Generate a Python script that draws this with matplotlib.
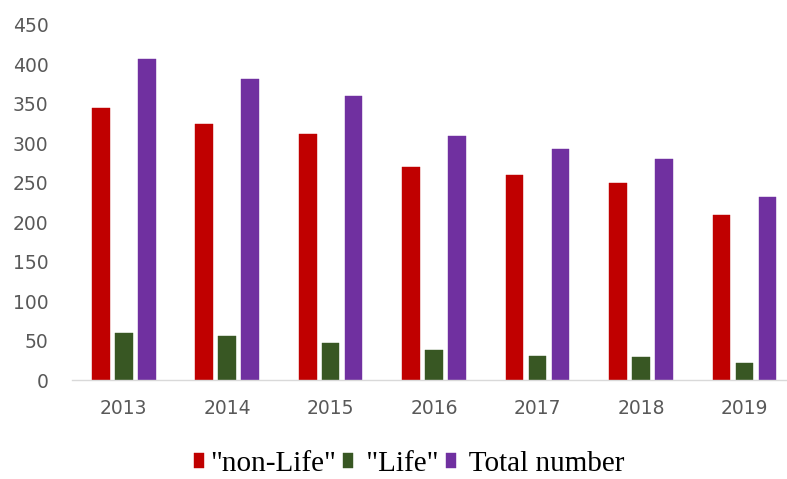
import matplotlib
matplotlib.use("Agg")
import matplotlib.pyplot as plt
import numpy as np

# values
years = ["2013", "2014", "2015", "2016", "2017", "2018", "2019"]
non_life = [345, 325, 312, 270, 260, 250, 209]
life = [60, 56, 47, 38, 30, 29, 21]
total = [407, 381, 360, 309, 293, 280, 232]

series_names = ['"non-Life"', ' "Life"', " Total number"]
series_colors = ["#C00000", "#385723", "#7030A0"]

W, H = 787, 479
fig = plt.figure(figsize=(W / 100, H / 100), dpi=100)
# plot area in pixels: left 72, bottom 380, top 25, right edge of figure
ax = fig.add_axes([72 / W, (H - 380) / H, (W - 72) / W, 355 / H])

x = np.arange(len(years))
step = 0.222
width = 0.17
for i, (vals, name, col) in enumerate(zip([non_life, life, total], series_names, series_colors)):
    ax.bar(x + (i - 1) * step, vals, width, color=col, label=name,
           edgecolor=col, linewidth=0.3)

ax.set_xlim(-0.5, 6.41)
ax.set_ylim(0, 450)
ax.set_yticks(range(0, 451, 50))
ax.set_xticks(x)
ax.set_xticklabels(years)

for s in ["top", "right", "left"]:
    ax.spines[s].set_visible(False)
ax.spines["bottom"].set_color("#D9D9D9")
ax.spines["bottom"].set_linewidth(1.0)

ax.tick_params(axis="both", length=0, colors="#595959")
ax.tick_params(axis="y", pad=17)
ax.tick_params(axis="x", pad=14)
for lbl in ax.get_yticklabels() + ax.get_xticklabels():
    lbl.set_fontfamily("DejaVu Sans")
    lbl.set_fontsize(13.5)

fig.legend(loc="center", bbox_to_anchor=(409 / W, (H - 464) / H), ncol=3,
           frameon=False, prop={"family": "Liberation Serif", "size": 21},
           handlelength=0.35, handleheight=0.45, handletextpad=0.2,
           columnspacing=0.25, borderpad=0)

fig.savefig("out.png", dpi=100)
